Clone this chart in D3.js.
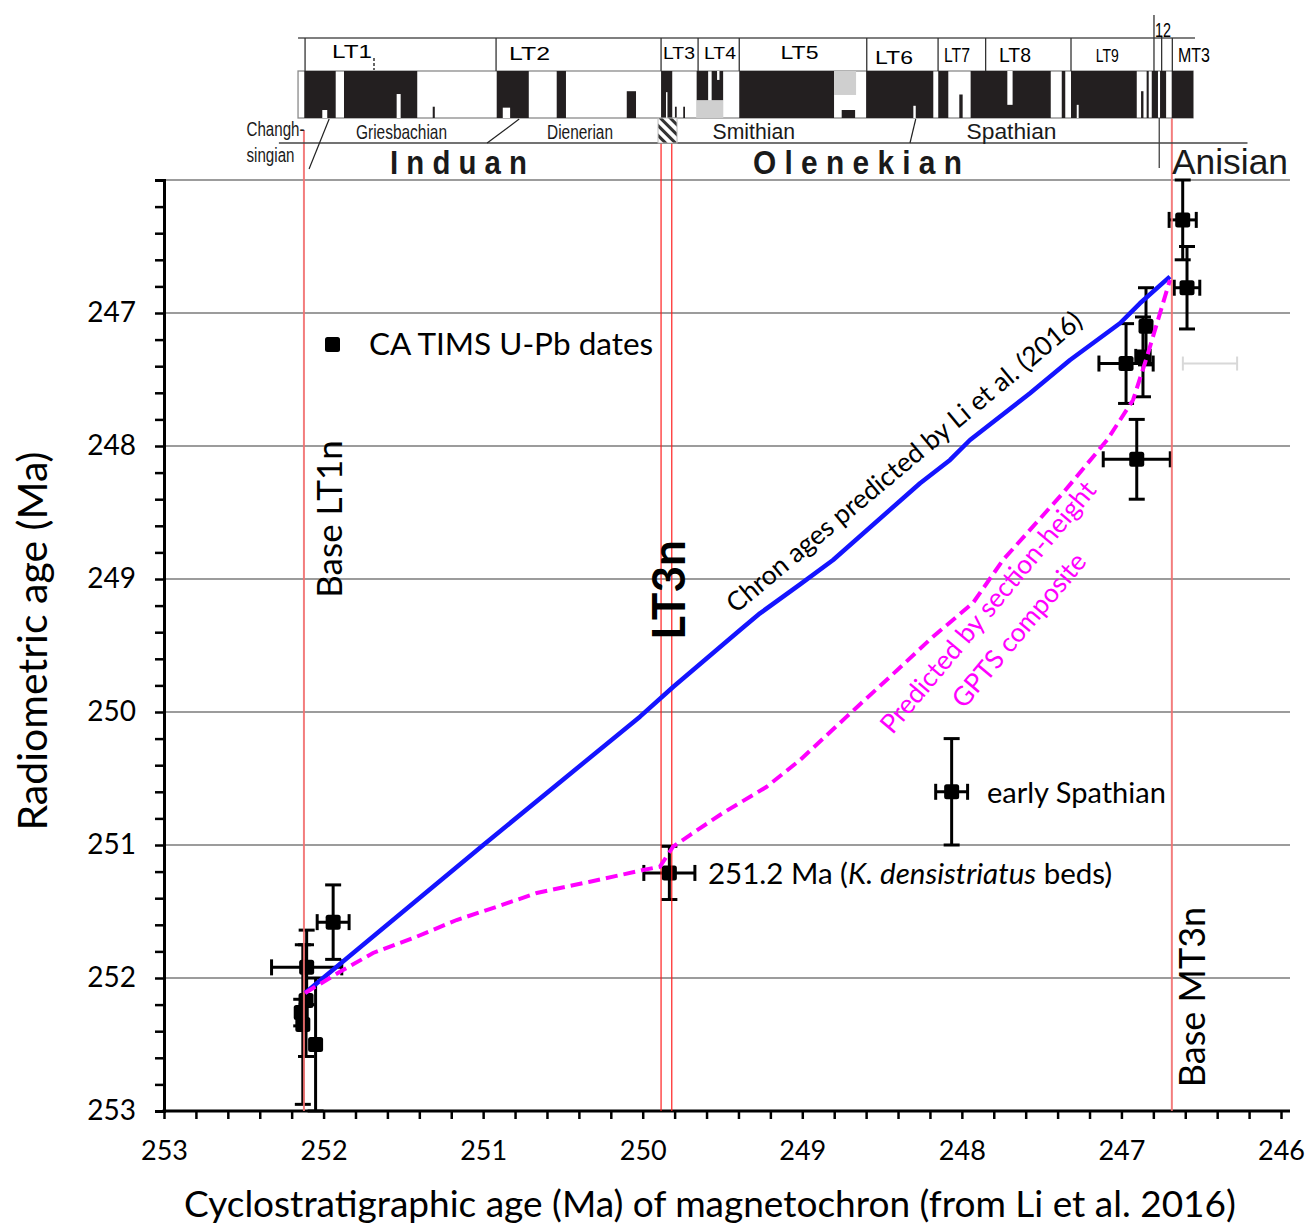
<!DOCTYPE html>
<html>
<head>
<meta charset="utf-8">
<script src="https://cdn.jsdelivr.net/npm/d3@7/dist/d3.min.js"></script>
<style>
body{margin:0;background:#fff;}
svg{display:block;}
</style>
</head>
<body>
<div id="chart"></div>
<script>
// ---- values ----
var xTicks = [253, 252, 251, 250, 249, 248, 247, 246];
var yGrid = [246, 247, 248, 249, 250, 251, 252];
var yLabels = [247, 248, 249, 250, 251, 252, 253];

// CA-TIMS U-Pb dates : cyclostratigraphic age (x), radiometric age (y), errors
var dateCyclo = [251.94, 252.106, 252.11, 252.14, 252.13, 252.05, 249.833, 248.064, 246.904, 246.971, 246.865, 246.846, 246.589, 246.616];
var dateRadio = [251.58, 251.92, 252.17, 252.26, 252.35, 252.50, 251.21, 250.60, 248.10, 247.38, 247.33, 247.10, 246.81, 246.30];
var dateXErr  = [0.10, 0.22, 0, 0, 0, 0, 0.16, 0.10, 0.21, 0.17, 0.045, 0, 0.08, 0.085];
var dateYErr  = [0.28, 0.28, 0.42, 0.10, 0.60, 0.50, 0.20, 0.40, 0.30, 0.30, 0.30, 0.29, 0.31, 0.30];

// faint grey ghost error bar right of the MT3n line
var ghostCyclo = [246.445];
var ghostRadio = [247.38];
var ghostXErr = [0.17];

// chron ages predicted by Li et al. (2016)
var chronCyclo = [252.116, 250.999, 250.017, 249.808, 249.390, 249.265, 249.014, 248.807, 248.262, 248.074, 247.949, 247.573, 247.322, 247.009, 246.884, 246.696];
var chronRadio = [252.113, 251.000, 250.035, 249.810, 249.383, 249.258, 249.040, 248.857, 248.280, 248.105, 247.955, 247.604, 247.353, 247.077, 246.927, 246.726];

// predicted by section-height GPTS composite
var gptsCyclo = [252.116, 251.897, 251.690, 251.416, 251.166, 250.915, 250.664, 250.330, 249.998, 249.892, 249.810, 249.704, 249.497, 249.223, 249.014, 248.722, 248.450, 248.181, 247.930, 247.742, 247.366, 247.090, 246.927, 246.840, 246.696];
var gptsRadio = [252.113, 251.953, 251.812, 251.689, 251.564, 251.464, 251.361, 251.276, 251.188, 251.163, 251.013, 250.925, 250.759, 250.562, 250.361, 250.035, 249.735, 249.434, 249.180, 248.857, 248.353, 247.955, 247.654, 247.329, 246.752];

// chron boundaries (Ma) marked by red lines
var redLines = [252.123, 249.885, 249.818, 246.684];

// magnetochron column
var chronLabels = ["LT1", "LT2", "LT3", "LT4", "LT5", "LT6", "LT7", "LT8", "LT9", "12", "MT3"];
var chronEdges = [252.116, 250.919, 249.885, 249.653, 249.395, 248.596, 248.149, 247.851, 247.316, 246.796, 246.748, 246.681];
var barStart = 252.160, barEnd = 246.539;
// polarity intervals: [from Ma, to Ma, top fraction, bottom fraction, n = normal / r = reversed / g = uncertain]
var polarity = [
  [252.121, 251.924, 0, 1, "n"], [252.008, 251.977, 0.83, 1, "r"],
  [251.872, 251.413, 0, 1, "n"], [251.542, 251.517, 0.49, 1, "r"],
  [251.316, 251.303, 0.76, 1, "n"],
  [250.915, 250.714, 0, 1, "n"], [250.877, 250.831, 0.78, 1, "r"],
  [250.539, 250.481, 0, 1, "n"],
  [250.100, 250.042, 0.43, 1, "n"],
  [249.885, 249.815, 0, 1, "n"], [249.854, 249.845, 0.45, 1, "r"],
  [249.798, 249.787, 0.76, 1, "n"], [249.746, 249.735, 0.76, 1, "n"],
  [249.665, 249.495, 0.62, 1, "g"],
  [249.662, 249.590, 0, 0.62, "n"], [249.568, 249.496, 0, 0.62, "n"], [249.534, 249.519, 0, 0.19, "r"],
  [249.395, 248.801, 0, 1, "n"],
  [248.801, 248.663, 0, 0.51, "g"], [248.753, 248.669, 0.83, 1, "n"],
  [248.600, 248.179, 0, 1, "n"], [248.304, 248.289, 0.74, 1, "r"],
  [248.148, 248.085, 0, 1, "n"],
  [248.016, 247.995, 0.5, 1, "n"],
  [247.945, 247.443, 0, 1, "n"], [247.715, 247.682, 0, 0.72, "r"],
  [247.374, 247.352, 0, 1, "n"],
  [247.316, 246.904, 0, 1, "n"], [247.280, 247.268, 0.72, 1, "r"],
  [246.877, 246.862, 0.43, 1, "n"],
  [246.842, 246.829, 0, 1, "n"],
  [246.810, 246.771, 0, 1, "n"],
  [246.758, 246.720, 0, 1, "n"],
  [246.685, 246.550, 0, 1, "n"]
];
var substages = ["Changh-", "singian", "Griesbachian", "Dienerian", "Smithian", "Spathian"];
var stages = ["I n d u a n", "O l e n e k i a n", "Anisian"];
var hatchFrom = 249.904, hatchTo = 249.785;
// slanted ticks pointing to substage boundaries [Ma at top, Ma at bottom]
var subTicks = [[251.965, 252.091], [250.774, 250.975], [248.289, 248.325]];
var olenekianAnisian = 246.763;

function start(){
    var W = 1311, H = 1225;
    var svg = d3.select("#chart").append("svg")
                .attr("width", W)
                .attr("height", H);

    var plotFont = "Lato, 'Open Sans', sans-serif";
    var barFont = "'Liberation Sans', Arial, sans-serif";

    var x = d3.scaleLinear().domain([253, 246]).range([164, 1281]);
    var y = d3.scaleLinear().domain([246, 253]).range([180, 1111]);
    var xRight = 1290;

    // grid
    svg.append("g")
       .selectAll("line")
       .data(yGrid)
       .enter().append("line")
       .attr("x1", x(253)).attr("x2", xRight)
       .attr("y1", d => y(d)).attr("y2", d => y(d))
       .attr("stroke", "#9c9c9c")
       .attr("stroke-width", 2);

    // y axis
    var yAxis = svg.append("g")
       .attr("transform", "translate(" + x(253) + ",0)")
       .call(d3.axisLeft(y)
               .tickValues(d3.range(0, 36).map(i => 246 + i * 0.2))
               .tickSize(9)
               .tickPadding(19)
               .tickFormat(function(d){
                   var r = Math.round(d);
                   return (Math.abs(d - r) < 0.01 && yLabels.indexOf(r) >= 0) ? r : "";
               }));
    yAxis.select(".domain").attr("stroke-width", 3);
    yAxis.selectAll(".tick line").attr("stroke-width", 2.5);
    yAxis.selectAll("text").style("font-family", plotFont).style("font-size", "28px").attr("fill", "#000");

    // x axis
    var xAxis = svg.append("g")
       .attr("transform", "translate(0," + y(253) + ")")
       .call(d3.axisBottom(x)
               .tickValues(d3.range(0, 36).map(i => 253 - i * 0.2))
               .tickSize(8)
               .tickPadding(22)
               .tickFormat(function(d){
                   var r = Math.round(d);
                   return (Math.abs(d - r) < 0.01 && xTicks.indexOf(r) >= 0) ? r : "";
               }));
    xAxis.select(".domain").remove();
    xAxis.selectAll(".tick line").attr("stroke-width", 2.5);
    xAxis.selectAll("text").style("font-family", plotFont).style("font-size", "27px").attr("fill", "#000");
    svg.append("line")
       .attr("x1", x(253) - 1.5).attr("x2", xRight)
       .attr("y1", y(253)).attr("y2", y(253))
       .attr("stroke", "#000").attr("stroke-width", 3);

    // ghost error bar
    var ghost = svg.append("g").attr("stroke", "#d8d8d8").attr("stroke-width", 2);
    ghostCyclo.forEach(function(c, i){
        var yy = y(ghostRadio[i]);
        ghost.append("line").attr("x1", x(c + ghostXErr[i])).attr("x2", x(c - ghostXErr[i])).attr("y1", yy).attr("y2", yy);
        ghost.append("line").attr("x1", x(c + ghostXErr[i])).attr("x2", x(c + ghostXErr[i])).attr("y1", yy - 7).attr("y2", yy + 7);
        ghost.append("line").attr("x1", x(c - ghostXErr[i])).attr("x2", x(c - ghostXErr[i])).attr("y1", yy - 7).attr("y2", yy + 7);
    });

    // error bars and markers
    var cap = 8;
    var eb = svg.append("g").attr("stroke", "#000").attr("stroke-width", 3);
    dateCyclo.forEach(function(c, i){
        var cx = x(c), cy = y(dateRadio[i]);
        if (dateYErr[i] > 0){
            var y0 = y(dateRadio[i] - dateYErr[i]), y1 = y(dateRadio[i] + dateYErr[i]);
            eb.append("line").attr("x1", cx).attr("x2", cx).attr("y1", y0).attr("y2", y1);
            eb.append("line").attr("x1", cx - cap).attr("x2", cx + cap).attr("y1", y0).attr("y2", y0);
            eb.append("line").attr("x1", cx - cap).attr("x2", cx + cap).attr("y1", y1).attr("y2", y1);
        }
        if (dateXErr[i] > 0){
            var x0 = x(c + dateXErr[i]), x1 = x(c - dateXErr[i]);
            eb.append("line").attr("x1", x0).attr("x2", x1).attr("y1", cy).attr("y2", cy);
            eb.append("line").attr("x1", x0).attr("x2", x0).attr("y1", cy - cap).attr("y2", cy + cap);
            eb.append("line").attr("x1", x1).attr("x2", x1).attr("y1", cy - cap).attr("y2", cy + cap);
        }
    });
    svg.append("g")
       .selectAll("rect")
       .data(dateCyclo)
       .enter().append("rect")
       .attr("x", (d) => x(d) - 7.5)
       .attr("y", (d, i) => y(dateRadio[i]) - 7.5)
       .attr("width", 15).attr("height", 15)
       .attr("rx", 2.5)
       .attr("fill", "#000");

    // red chron boundary lines
    var redTop = [130, 143, 143, 118];
    var redW = [2, 1.3, 1.3, 2];
    var redC = ["#f27070", "#ff1a1a", "#ff1a1a", "#f27070"];
    svg.append("g")
       .selectAll("line")
       .data(redLines)
       .enter().append("line")
       .attr("x1", d => x(d)).attr("x2", d => x(d))
       .attr("y1", (d, i) => redTop[i]).attr("y2", y(253))
       .attr("stroke", (d, i) => redC[i])
       .attr("stroke-width", (d, i) => redW[i])
       .attr("opacity", 0.9);

    // model lines
    var line = d3.line().x(d => x(d[0])).y(d => y(d[1]));
    svg.append("path")
       .datum(chronCyclo.map((c, i) => [c, chronRadio[i]]))
       .attr("d", line)
       .attr("fill", "none")
       .attr("stroke", "#1414ff")
       .attr("stroke-width", 4.5)
       .attr("stroke-linejoin", "round");
    svg.append("path")
       .datum(gptsCyclo.map((c, i) => [c, gptsRadio[i]]))
       .attr("d", line)
       .attr("fill", "none")
       .attr("stroke", "#ff00ff")
       .attr("stroke-width", 4)
       .attr("stroke-dasharray", "12,6");

    // plot annotations
    svg.append("rect")
       .attr("x", 325).attr("y", 337).attr("width", 15).attr("height", 15).attr("rx", 2.5)
       .attr("fill", "#000");
    svg.append("text")
       .attr("x", 369).attr("y", 355)
       .style("font-family", plotFont).style("font-size", "31.5px")
       .text("CA TIMS U-Pb dates");

    svg.append("text")
       .attr("transform", "translate(342,519) rotate(-90)")
       .attr("text-anchor", "middle")
       .style("font-family", plotFont).style("font-size", "35px")
       .text("Base LT1n");
    svg.append("text")
       .attr("transform", "translate(685,590) rotate(-90)")
       .attr("text-anchor", "middle")
       .style("font-family", plotFont).style("font-size", "46px").style("font-weight", "bold")
       .text("LT3n");
    svg.append("text")
       .attr("transform", "translate(1205,997) rotate(-90)")
       .attr("text-anchor", "middle")
       .style("font-family", plotFont).style("font-size", "36px")
       .text("Base MT3n");

    svg.append("text")
       .attr("transform", "translate(910,469) rotate(-39.8)")
       .attr("text-anchor", "middle")
       .style("font-family", plotFont).style("font-size", "26.5px")
       .text("Chron ages predicted by Li et al. (2016)");
    svg.append("text")
       .attr("transform", "translate(995,613) rotate(-50)")
       .attr("text-anchor", "middle")
       .attr("fill", "#ff00ff")
       .style("font-family", plotFont).style("font-size", "26.5px")
       .text("Predicted by section-height");
    svg.append("text")
       .attr("transform", "translate(1026,636) rotate(-50)")
       .attr("text-anchor", "middle")
       .attr("fill", "#ff00ff")
       .style("font-family", plotFont).style("font-size", "26.5px")
       .text("GPTS composite");

    svg.append("text")
       .attr("x", 987).attr("y", 803)
       .style("font-family", plotFont).style("font-size", "29px")
       .text("early Spathian");
    var kd = svg.append("text")
       .attr("x", 708).attr("y", 884)
       .style("font-family", plotFont).style("font-size", "29.5px");
    kd.append("tspan").text("251.2 Ma (");
    kd.append("tspan").style("font-style", "italic").text("K. densistriatus");
    kd.append("tspan").text(" beds)");

    // axis titles
    svg.append("text")
       .attr("transform", "translate(47,641) rotate(-90)")
       .attr("text-anchor", "middle")
       .style("font-family", plotFont).style("font-size", "41px")
       .text("Radiometric age (Ma)");
    svg.append("text")
       .attr("x", 710).attr("y", 1217)
       .attr("text-anchor", "middle")
       .style("font-family", plotFont).style("font-size", "37px")
       .text("Cyclostratigraphic age (Ma) of magnetochron (from Li et al. 2016)");

    drawColumn(svg, x, barFont);
}

function drawColumn(svg, x, font){
    var nameTop = 38, colTop = 71, colBot = 118, subBot = 143;
    var top = svg.append("g");

    // polarity column
    top.append("rect")
       .attr("x", x(barStart)).attr("y", colTop)
       .attr("width", x(barEnd) - x(barStart) - 2).attr("height", colBot - colTop)
       .attr("fill", "#fff").attr("stroke", "#8a8a8a").attr("stroke-width", 1.3);
    var tone = {n: "#231f20", r: "#ffffff", g: "#cfcfcf"};
    top.selectAll(".pol")
       .data(polarity)
       .enter().append("rect")
       .attr("class", "pol")
       .attr("x", d => x(d[0]))
       .attr("width", d => x(d[1]) - x(d[0]))
       .attr("y", d => colTop + d[2] * (colBot - colTop))
       .attr("height", d => (d[3] - d[2]) * (colBot - colTop))
       .attr("fill", d => tone[d[4]]);

    // name row
    top.append("line")
       .attr("x1", x(barStart)).attr("x2", x(barEnd))
       .attr("y1", nameTop).attr("y2", nameTop)
       .attr("stroke", "#555").attr("stroke-width", 1.5);
    top.selectAll(".edge")
       .data(chronEdges)
       .enter().append("line")
       .attr("class", "edge")
       .attr("x1", d => x(d)).attr("x2", d => x(d))
       .attr("y1", (d, i) => i == 9 ? 15 : (i == 10 ? 36 : nameTop))
       .attr("y2", colTop)
       .attr("stroke", "#333").attr("stroke-width", 1.3);

    // chron labels (layout: centre x, baseline, width, size)
    var lab = [[352, 57.5, 40, 18], [529.5, 59.5, 41, 18], [679, 59, 32, 17], [720, 59, 32, 17],
               [799.5, 58.5, 38, 18], [894, 63.5, 38, 19], [957, 62, 26, 20], [1015, 62, 32, 21],
               [1107.3, 61.5, 23, 19], [1163, 36.5, 16, 20], [1194, 62, 32, 20]];
    top.selectAll(".cname")
       .data(chronLabels)
       .enter().append("text")
       .attr("class", "cname")
       .attr("x", (d, i) => lab[i][0] - lab[i][2] / 2)
       .attr("y", (d, i) => lab[i][1])
       .attr("textLength", (d, i) => lab[i][2])
       .attr("lengthAdjust", "spacingAndGlyphs")
       .style("font-family", font)
       .style("font-size", (d, i) => lab[i][3] + "px")
       .text(d => d);
    // small dashed tick under LT1
    top.append("line")
       .attr("x1", 374).attr("x2", 374).attr("y1", 58).attr("y2", 70)
       .attr("stroke", "#000").attr("stroke-width", 1.2).attr("stroke-dasharray", "3,2");

    // substage row
    top.append("line")
       .attr("x1", x(252.28)).attr("x2", x(246.21))
       .attr("y1", subBot).attr("y2", subBot)
       .attr("stroke", "#444").attr("stroke-width", 1.5);
    top.selectAll(".stick")
       .data(subTicks)
       .enter().append("line")
       .attr("class", "stick")
       .attr("x1", d => x(d[0])).attr("x2", d => x(d[1]))
       .attr("y1", (d, i) => colBot + 1).attr("y2", (d, i) => i == 0 ? 169 : subBot)
       .attr("stroke", "#222").attr("stroke-width", 1.2);
    top.append("line")
       .attr("x1", x(olenekianAnisian)).attr("x2", x(olenekianAnisian))
       .attr("y1", colBot).attr("y2", 168)
       .attr("stroke", "#444").attr("stroke-width", 1.3);

    // hatched box
    var defs = svg.append("defs");
    var pat = defs.append("pattern")
       .attr("id", "hatch").attr("patternUnits", "userSpaceOnUse")
       .attr("width", 7).attr("height", 7)
       .attr("patternTransform", "rotate(45)");
    pat.append("rect").attr("width", 7).attr("height", 7).attr("fill", "#fff");
    pat.append("rect").attr("width", 7).attr("height", 3).attr("fill", "#333");
    top.append("rect")
       .attr("x", x(hatchFrom)).attr("y", colBot)
       .attr("width", x(hatchTo) - x(hatchFrom)).attr("height", subBot - colBot)
       .attr("fill", "url(#hatch)")
       .attr("stroke", "#bbb").attr("stroke-width", 1);

    // substage labels (layout: left x, baseline, width, size)
    var sub = [[246.5, 136, 58, 20], [246.5, 162, 48, 20], [356, 139, 91, 21],
               [547, 139, 66, 20], [712.5, 138.5, 82.5, 21.5], [966.5, 138.5, 90, 22]];
    top.selectAll(".sname")
       .data(substages)
       .enter().append("text")
       .attr("class", "sname")
       .attr("x", (d, i) => sub[i][0])
       .attr("y", (d, i) => sub[i][1])
       .attr("textLength", (d, i) => sub[i][2])
       .attr("lengthAdjust", "spacingAndGlyphs")
       .style("font-family", font)
       .style("font-size", (d, i) => sub[i][3] + "px")
       .attr("fill", "#1a1a1a")
       .text(d => d);

    // stage labels
    var stg = [[390, 174, 137, 34, "bold"], [753, 174, 209, 34, "bold"], [1172, 174, 116, 35, "normal"]];
    top.selectAll(".stage")
       .data(stages)
       .enter().append("text")
       .attr("class", "stage")
       .attr("x", (d, i) => stg[i][0])
       .attr("y", (d, i) => stg[i][1])
       .attr("textLength", (d, i) => stg[i][2])
       .attr("lengthAdjust", "spacingAndGlyphs")
       .style("font-family", font)
       .style("font-size", (d, i) => stg[i][3] + "px")
       .style("font-weight", (d, i) => stg[i][4])
       .attr("fill", "#1a1a1a")
       .text(d => d);
}

start()
</script>
</body>
</html>
